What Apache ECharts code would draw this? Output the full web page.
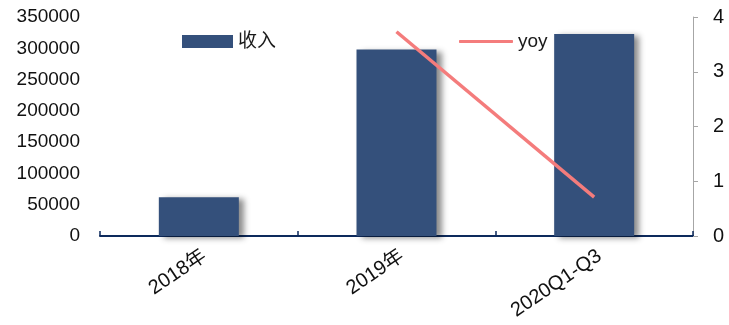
<!DOCTYPE html>
<html>
<head>
<meta charset="utf-8">
<script src="https://cdn.jsdelivr.net/npm/echarts@6/dist/echarts.min.js"></script>
<style>
  html, body { margin: 0; padding: 0; background: #fff; }
  #chart { width: 729px; height: 325px; }
</style>
</head>
<body>
<div id="chart"></div>
<script>
// Revenue by period with year-over-year growth
const categories = ['2018年', '2019年', '2020Q1-Q3'];
const revenue = [62000, 298000, 323000];
const yoy = [null, 3.73, 0.71];

const chart = echarts.init(document.getElementById('chart'));
const font = 'Arial, "Liberation Sans", "Noto Sans CJK SC", sans-serif';

chart.setOption({
  animation: false,
  backgroundColor: '#ffffff',
  grid: { left: 100, right: 36, top: 17, bottom: 89 },
  legend: [
    {
      data: [{ name: '收入', icon: 'rect' }], left: 177, top: 27,
      itemWidth: 51, itemHeight: 13, itemGap: 6,
      textStyle: { fontSize: 19, color: '#1a1a1a', fontFamily: font }
    },
    {
      data: [{ name: 'yoy', icon: 'roundRect' }], left: 454, top: 27,
      itemWidth: 54, itemHeight: 3, itemGap: 4,
      textStyle: { fontSize: 19, color: '#1a1a1a', fontFamily: font }
    }
  ],
  xAxis: {
    type: 'category',
    data: categories,
    axisLine: { lineStyle: { color: '#0d2a5c', width: 2 } },
    axisTick: { show: true, inside: true, length: 5, lineStyle: { color: '#0d2a5c', width: 1.5 } },
    axisLabel: {
      rotate: 34, fontSize: 20, color: '#111', fontFamily: font, margin: 10,
      verticalAlign: 'top'
    }
  },
  yAxis: [
    {
      type: 'value', min: 0, max: 350000, interval: 50000,
      axisLine: { show: false },
      axisTick: { show: false },
      splitLine: { show: false },
      axisLabel: {
        fontSize: 19, color: '#111', fontFamily: font, margin: 20,
        formatter: v => String(v)
      }
    },
    {
      type: 'value', min: 0, max: 4, interval: 1, position: 'right',
      axisLine: { show: true, lineStyle: { color: '#a6a6a6', width: 1 } },
      axisTick: { show: true, length: 5, lineStyle: { color: '#a6a6a6' } },
      splitLine: { show: false },
      axisLabel: { fontSize: 20, color: '#111', fontFamily: font, margin: 20 }
    }
  ],
  series: [
    {
      name: '收入', type: 'bar', data: revenue, barWidth: 80,
      itemStyle: {
        color: '#34507b',
        shadowColor: 'rgba(0,0,0,0.45)', shadowBlur: 6, shadowOffsetX: 5, shadowOffsetY: 2
      }
    },
    {
      name: 'yoy', type: 'line', yAxisIndex: 1, data: yoy,
      symbol: 'none', connectNulls: false,
      lineStyle: { color: '#f47c7c', width: 3.5 },
      itemStyle: { color: '#f47c7c' }
    }
  ]
});
</script>
</body>
</html>
